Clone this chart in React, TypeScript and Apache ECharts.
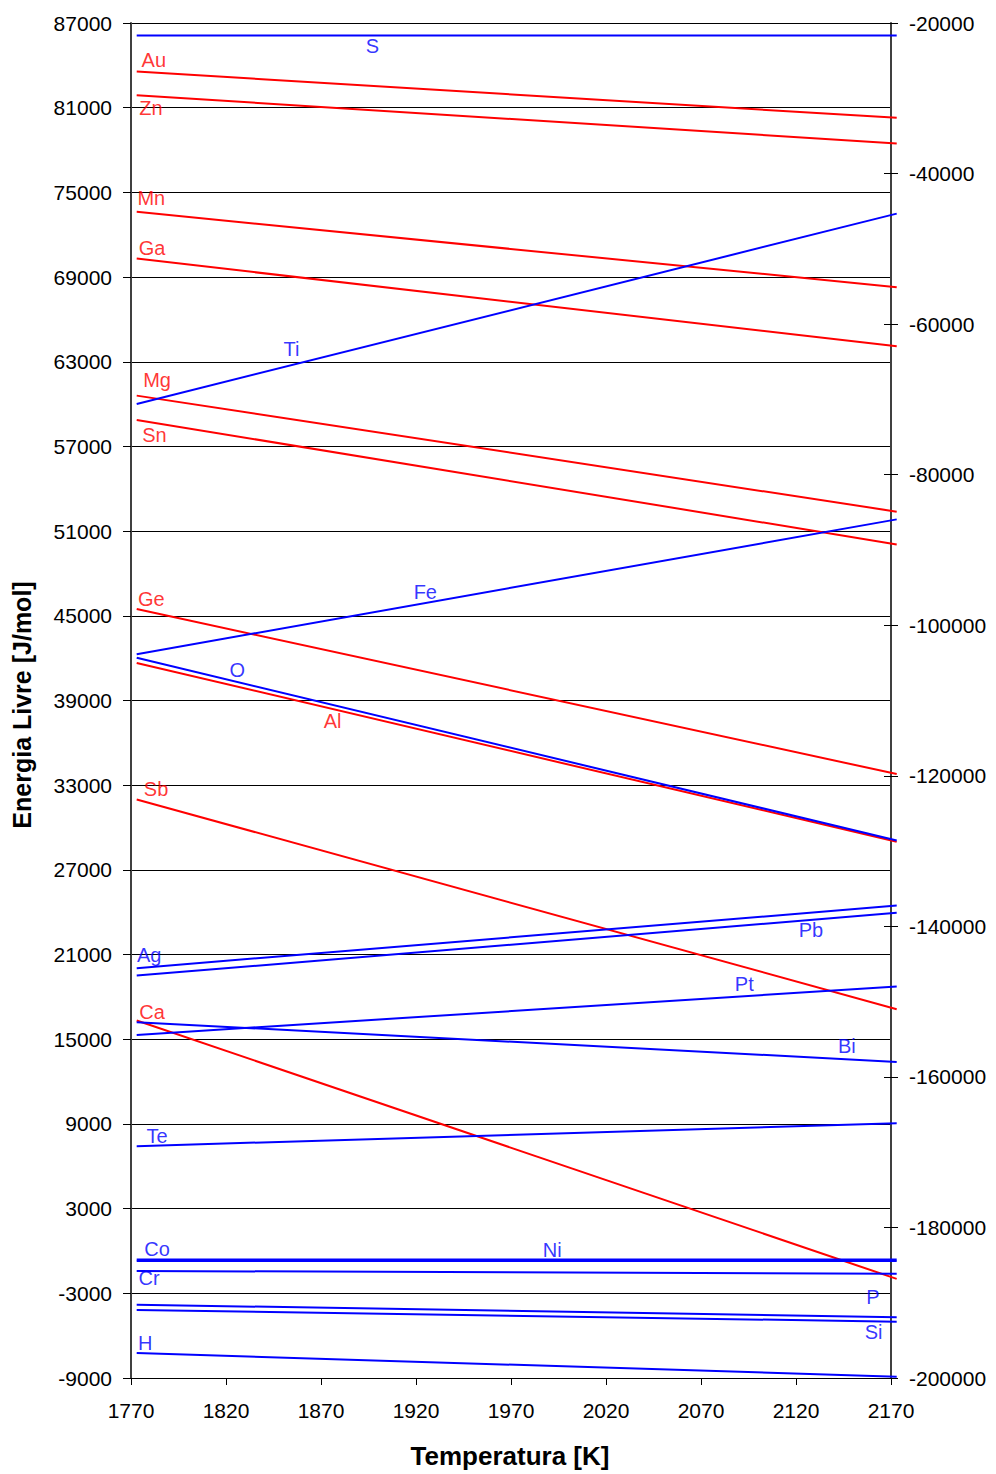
import React, { useEffect, useRef } from "react";
import * as echarts from "echarts";

// Temperatures (K) at which every line is evaluated
const temperatures = [1773, 2173];

// X axis tick labels
const xTicks = [1770, 1820, 1870, 1920, 1970, 2020, 2070, 2120, 2170];
// Left axis tick labels
const leftTicks = [-9000, -3000, 3000, 9000, 15000, 21000, 27000, 33000, 39000, 45000, 51000, 57000, 63000, 69000, 75000, 81000, 87000];

// Red lines (left axis)
const redElements = ["Au", "Zn", "Mn", "Ga", "Mg", "Sn", "Ge", "Al", "Sb", "Ca"];
const redAtStart = [83560, 81880, 73620, 70310, 60600, 58880, 45480, 41660, 31990, 16330];
const redAtEnd = [80280, 78460, 68280, 64090, 52380, 50060, 33790, 28990, 17130, -1980];
const redLabelT = [1782, 1780.5, 1780.7, 1781.1, 1783.7, 1782.3, 1780.7, 1876.1, 1783.2, 1781.1];
const redLabelE = [84410, 81010, 74610, 71070, 61680, 57840, 46210, 37520, 32750, 16960];

// Blue lines (right axis)
const blueElements = ["S", "Ti", "Fe", "O", "Ag", "Pb", "Pt", "Bi", "Te", "Co", "Ni", "Cr", "P", "Si", "H"];
const blueAtStart = [-21660, -70600, -103850, -104320, -145560, -146540, -154420, -152730, -169210, -184250, -184450, -185780, -190260, -190960, -196680];
const blueAtEnd = [-21660, -45320, -85940, -128600, -137240, -138210, -148000, -158010, -166150, -184250, -184450, -186140, -191930, -192520, -199830];
const blueLabelT = [1897, 1854.4, 1924.9, 1825.9, 1779.6, 2127.9, 2092.8, 2146.8, 1783.7, 1783.7, 1991.7, 1779.5, 2160.5, 2160.8, 1777.5];
const blueLabelE = [-23080, -63260, -95550, -105910, -143830, -140470, -147640, -155840, -167800, -182860, -182990, -186750, -189200, -193850, -195310];

const FONT = '"Liberation Sans", Arial, Helvetica, sans-serif';
const RED = "#FF0000";
const BLUE = "#0000FF";

const plain = (v: number) => String(Math.round(v));

function segmentSeries(yAxisIndex: number, names: string[], start: number[], end: number[], color: string) {
  return {
    type: "custom",
    yAxisIndex,
    silent: true,
    clip: false,
    encode: { x: [0, 2], y: [1, 3] },
    data: names.map((n, i) => [temperatures[0], start[i], temperatures[1], end[i], n]),
    renderItem: (_params: any, api: any) => {
      const p0 = api.coord([api.value(0), api.value(1)]);
      const p1 = api.coord([api.value(2), api.value(3)]);
      return {
        type: "line",
        shape: { x1: p0[0], y1: p0[1], x2: p1[0], y2: p1[1] },
        style: { stroke: color, lineWidth: 2, fill: null },
      };
    },
  };
}

function labelSeries(yAxisIndex: number, names: string[], ts: number[], es: number[], color: string) {
  return {
    type: "scatter",
    yAxisIndex,
    symbolSize: 0,
    silent: true,
    clip: false,
    data: names.map((n, i) => [ts[i], es[i], n]),
    label: {
      show: true,
      position: "inside",
      formatter: (p: any) => p.data[2],
      color,
      fontSize: 20,
      fontFamily: FONT,
    },
  };
}

export default function App() {
  const ref = useRef<HTMLDivElement>(null);

  useEffect(() => {
    if (!ref.current) return;
    const chart = echarts.init(ref.current, undefined, { renderer: "svg" });

    chart.setOption({
      animation: false,
      backgroundColor: "#ffffff",
      grid: { left: 131, right: 105, top: 23, bottom: 96 },
      xAxis: {
        type: "value",
        min: 1770,
        max: 2170,
        axisLine: { show: true, onZero: false, lineStyle: { color: "#000", width: 1 } },
        axisTick: { show: true, inside: false, length: 7, customValues: xTicks, lineStyle: { color: "#000" } },
        axisLabel: { customValues: xTicks, formatter: plain, margin: 22, fontSize: 21, color: "#000", fontFamily: FONT },
        splitLine: { show: false },
      },
      yAxis: [
        {
          type: "value",
          position: "left",
          min: -9000,
          max: 87000,
          axisLine: { show: true, onZero: false, lineStyle: { color: "#404040", width: 2 } },
          axisTick: { show: true, inside: false, length: 8, customValues: leftTicks, lineStyle: { color: "#000" } },
          axisLabel: { customValues: leftTicks, formatter: plain, margin: 19, fontSize: 21, color: "#000", fontFamily: FONT },
          splitLine: { show: true, lineStyle: { color: "#000", width: 1 } },
        },
        {
          type: "value",
          position: "right",
          min: -200000,
          max: -20000,
          interval: 20000,
          axisLine: { show: true, onZero: false, lineStyle: { color: "#404040", width: 2 } },
          axisTick: { show: true, inside: false, length: 7, lineStyle: { color: "#000" } },
          axisLabel: { formatter: plain, margin: 18, fontSize: 21, color: "#000", fontFamily: FONT },
          splitLine: { show: false },
        },
        {
          type: "value",
          position: "right",
          min: -200000,
          max: -20000,
          interval: 20000,
          axisLine: { show: false, onZero: false },
          axisTick: { show: true, inside: true, length: 7, lineStyle: { color: "#000" } },
          axisLabel: { show: false },
          splitLine: { show: false },
        },
      ],
      graphic: [
        {
          type: "text",
          x: 22,
          y: 705,
          rotation: Math.PI / 2,
          style: {
            text: "Energia Livre [J/mol]",
            font: `bold 25px ${FONT}`,
            fill: "#000",
            align: "center",
            verticalAlign: "middle",
          },
        },
        {
          type: "text",
          x: 510,
          y: 1456,
          style: {
            text: "Temperatura [K]",
            font: `bold 26px ${FONT}`,
            fill: "#000",
            align: "center",
            verticalAlign: "middle",
          },
        },
      ],
      series: [
        segmentSeries(0, redElements, redAtStart, redAtEnd, RED),
        segmentSeries(1, blueElements, blueAtStart, blueAtEnd, BLUE),
        labelSeries(0, redElements, redLabelT, redLabelE, RED),
        labelSeries(1, blueElements, blueLabelT, blueLabelE, BLUE),
      ],
    });

    return () => chart.dispose();
  }, []);

  return (
    <div
      ref={ref}
      style={{ position: "absolute", left: 0, top: 0, width: 996, height: 1474, background: "#fff" }}
    />
  );
}
